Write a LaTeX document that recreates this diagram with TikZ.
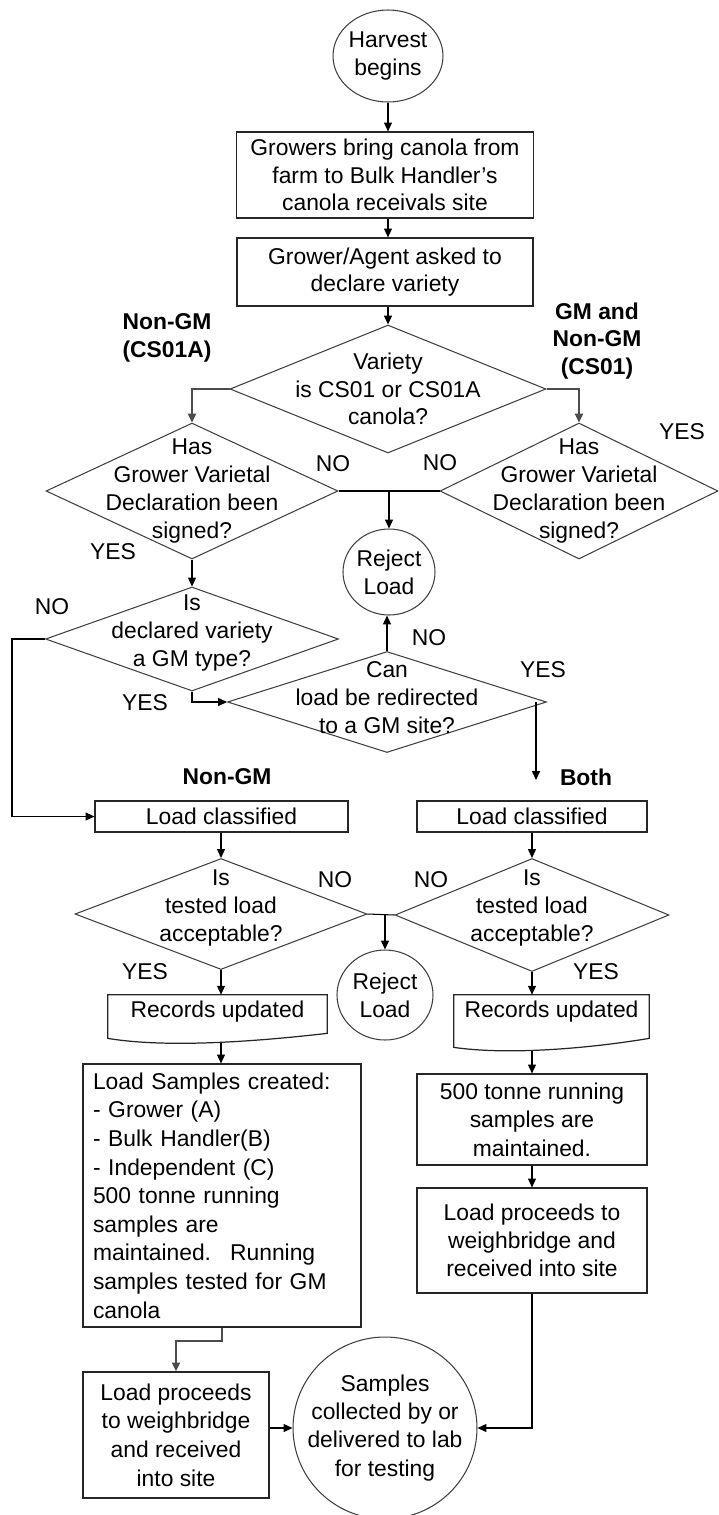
\documentclass[tikz,border=0pt]{standalone}
\usepackage{fontspec}
\setmainfont{Liberation Sans}
\usetikzlibrary{shapes.geometric,arrows.meta,calc}

\begin{document}
\begin{tikzpicture}[x=0.02cm,y=-0.02cm,
  font=\fontsize{13}{15.8}\selectfont,
  box/.style={draw=black!85,line width=0.7pt,inner sep=0pt,align=center},
  dec/.style={diamond,draw=black!75,line width=0.6pt,inner sep=0pt},
  term/.style={ellipse,draw=black!75,line width=0.6pt,inner sep=0pt},
  txt/.style={align=center,inner sep=0pt},
  hd/.style={align=center,inner sep=0pt,font=\fontsize{13}{15.8}\selectfont\bfseries},
  arr/.style={-{Triangle[length=5pt,width=4.5pt]},line width=0.6pt},
  heavy/.style={-{Triangle[length=5pt,width=4.5pt]},line width=1.2pt,draw=black!70},
  joint/.style={line width=0.6pt},
  wave/.style={draw=black!85,line width=0.7pt}]
  \useasboundingbox (0,0) rectangle (718,1515);

  % top of the chart
  \node[term,minimum width=2.2cm,minimum height=1.84cm,label={[txt]center:Harvest\\begins}] (harvest) at (388,56) {};
  \node[box,minimum width=5.94cm,minimum height=1.72cm] (bring) at (385,175) {Growers bring canola from\\farm to Bulk Handler’s\\canola receivals site};
  \node[box,minimum width=5.92cm,minimum height=1.36cm] (declare) at (385,272) {Grower/Agent asked to\\declare variety};
  \node[dec,minimum width=6.32cm,minimum height=2.56cm,label={[txt]center:Variety\\is CS01 or CS01A\\canola?}] (variety) at (388,389) {};

  % declaration checks
  \node[dec,minimum width=5.84cm,minimum height=2.72cm,label={[txt]center:Has\\Grower Varietal\\Declaration been\\signed?}] (signA) at (192,491) {};
  \node[dec,minimum width=5.56cm,minimum height=2.72cm,label={[txt]center:Has\\Grower Varietal\\Declaration been\\signed?}] (signB) at (579,491) {};
  \node[term,minimum width=1.84cm,minimum height=1.72cm,label={[txt]center:Reject\\Load}] (reject1) at (389,572) {};
  \node[dec,minimum width=5.86cm,minimum height=2.08cm,label={[txt,yshift=3.5pt]center:Is\\declared variety\\a GM type?}] (gmtype) at (192,639) {};
  \node[dec,minimum width=6.38cm,minimum height=2.02cm,label={[txt,yshift=2.5pt]center:Can\\load be redirected\\to a GM site?}] (redirect) at (387,702) {};
  \coordinate (bothend) at (536,780);

  % classification
  \node[box,minimum width=5.06cm,minimum height=0.62cm] (clsA) at (221.5,816.5) {Load classified};
  \node[box,minimum width=4.6cm,minimum height=0.62cm] (clsB) at (532,816.5) {Load classified};
  \node[dec,minimum width=5.84cm,minimum height=2.22cm,label={[txt,yshift=3.5pt]center:Is\\tested load\\acceptable?}] (accA) at (221,914) {};
  \node[dec,minimum width=5.48cm,minimum height=2.26cm,label={[txt,yshift=4pt]center:Is\\tested load\\acceptable?}] (accB) at (532,915) {};
  \node[term,minimum width=1.92cm,minimum height=1.8cm,label={[txt]center:Reject\\Load}] (reject2) at (385,995) {};
  \node[inner sep=0pt,minimum width=4.38cm,minimum height=0.68cm] (recA) at (217.5,1012) {Records updated};
  \node[inner sep=0pt,minimum width=3.9cm,minimum height=0.68cm] (recB) at (551.5,1012) {Records updated};
  \draw[wave] (recA.north west) -- (recA.north east) -- ($(recA.south east)+(0,4)$) .. controls +(-70,8) and +(60,10) .. ($(recA.south west)+(0,9)$) -- cycle;
  \draw[wave] (recB.north west) -- (recB.north east) -- ($(recB.south east)+(0,9)$) .. controls +(-60,10) and +(55,8) .. ($(recB.south west)+(0,18)$) -- cycle;

  % samples and weighbridge
  \node[box,minimum width=5.56cm,minimum height=5.26cm,text width=5.16cm,align=left,font=\fontsize{13}{16.3}\selectfont] (sampA) at (222,1195.5) {Load Samples created:\\- Grower (A)\\- Bulk Handler(B)\\- Independent (C)\\500 tonne running\\samples are\\maintained.~ Running\\samples tested for GM\\canola};
  \node[box,minimum width=4.6cm,minimum height=1.82cm,font=\fontsize{13}{16.3}\selectfont] (sampB) at (532,1119.5) {500 tonne running\\samples are\\maintained.};
  \node[box,minimum width=4.6cm,minimum height=2.1cm] (procB) at (532,1240.5) {Load proceeds to\\weighbridge and\\received into site};
  \node[box,minimum width=3.72cm,minimum height=2.52cm,font=\fontsize{13}{16.3}\selectfont] (procA) at (176,1435) {Load proceeds\\to weighbridge\\and received\\into site};
  \node[term,minimum width=3.68cm,minimum height=3.64cm,label={[txt,font=\fontsize{13}{16}\selectfont]center:Samples\\collected by or\\delivered to lab\\for testing}] (lab) at (385,1428) {};

  % headings and answers
  \node[hd] (hdA) at (167,338) {Non-GM\\(CS01A)};
  \node[hd] (hdB) at (597,341) {GM and\\Non-GM\\(CS01)};
  \node[hd] (hdC) at (227,777) {Non-GM};
  \node[hd] (hdD) at (586,777) {Both};
  \node[txt] (noA) at (333,464) {NO};
  \node[txt] (noB) at (440,463) {NO};
  \node[txt] (noC) at (52,607) {NO};
  \node[txt] (noD) at (429,638) {NO};
  \node[txt] (noE) at (335,880) {NO};
  \node[txt] (noF) at (431,880) {NO};
  \node[txt] (yesA) at (682,432) {YES};
  \node[txt] (yesB) at (113,552) {YES};
  \node[txt] (yesC) at (145,703) {YES};
  \node[txt] (yesD) at (543,670) {YES};
  \node[txt] (yesE) at (145,972) {YES};
  \node[txt] (yesF) at (596,972) {YES};

  % connectors
  \draw[arr] (harvest.south) -- (bring.north -| harvest);
  \draw[arr] (bring.south -| harvest) -- (declare.north -| harvest);
  \draw[arr] (declare.south -| variety) -- (variety.north);
  \draw[heavy] (variety.west) -| (signA.north);
  \draw[heavy] (variety.east) -| (signB.north);
  \draw[joint] (signA.east) -- (signB.west);
  \draw[arr] (reject1.north |- signA.east) -- (reject1.north);
  \draw[arr] (signA.south) -- (gmtype.north);
  \draw[arr] (gmtype.west) -- ++(-33,0) |- (clsA.west);
  \draw[arr] (gmtype.south) |- (redirect.west);
  \draw[arr] (redirect.north) -- (redirect.north |- reject1.south);
  \draw[arr] (redirect.east -| bothend) -- (bothend);
  \draw[arr] (clsA.south -| accA) -- (accA.north);
  \draw[arr] (clsB.south) -- (accB.north);
  \draw[joint] (accA.east) -- (accB.west);
  \draw[arr] (reject2.north |- accA.east) -- (reject2.north);
  \draw[arr] (accA.south) -- (accA.south |- recA.north);
  \draw[arr] (accB.south) -- (accB.south |- recB.north);
  \draw[arr] (accA |- recA.south) ++(0,14) -- (accA |- sampA.north);
  \draw[arr] (accB |- recB.south) ++(0,22) -- (accB |- sampB.north);
  \draw[arr] (sampB.south) -- (procB.north);
  \draw[heavy] (sampA.south) -- ++(0,13) -| (procA.north);
  \draw[arr] (procA.east |- lab) -- (lab.west);
  \draw[arr] (procB.south) |- (lab.east);
\end{tikzpicture}
\end{document}
